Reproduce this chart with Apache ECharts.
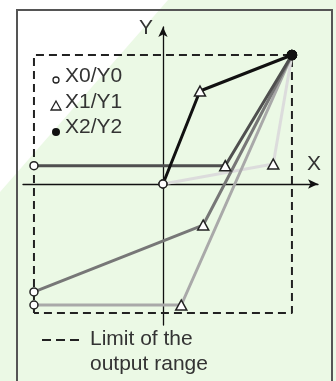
<!DOCTYPE html>
<html>
<head>
<meta charset="utf-8">
<script src="https://cdn.jsdelivr.net/npm/echarts@6/dist/echarts.min.js"></script>
<style>
  html, body { margin: 0; padding: 0; background: #fff; }
  #chart { width: 336px; height: 381px; }
</style>
</head>
<body>
<div id="chart"></div>
<script>
// output range limit is +/-100 in both directions
const limitBox = [[-100, -100], [-100, 100], [100, 100], [100, -100], [-100, -100]];

// each curve: X0/Y0 -> X1/Y1 -> X2/Y2
const curveBlack = [[0, 0], [28.7, 72.1], [100, 100]];
const curveDark = [[-100, 14.2], [48.3, 14.2], [100, 100]];
const curvePale = [[0, 0], [85.5, 15.5], [100, 100]];
const curveMid = [[-100, -83.7], [31.2, -31.8], [100, 100]];
const curveLight = [[-100, -93.8], [14.2, -93.8], [100, 100]];

const legendNames = ["X0/Y0", "X1/Y1", "X2/Y2"];
const limitText = "Limit of the\noutput range";

const chart = echarts.init(document.getElementById("chart"));

// point markers: open circle, open triangle, filled dot
const toPoints = (pts) =>
  pts.map((p, i) => {
    if (i === 0) return { value: p, symbol: "circle", symbolSize: 8 };
    if (i === 1) return { value: p, symbol: "triangle", symbolSize: [11, 10] };
    return {
      value: p,
      symbol: "circle",
      symbolSize: 9,
      itemStyle: { color: "#111", borderColor: "#111" },
    };
  });

const curve = (data, color, z) => ({
  type: "line",
  data: toPoints(data),
  showAllSymbol: true,
  z: z,
  lineStyle: { color: color, width: 3 },
  itemStyle: { color: "#fff", borderColor: "#222", borderWidth: 1.5 },
  clip: false,
  silent: true,
});

const font = "'Liberation Sans', Arial, sans-serif";

chart.setOption({
  animation: false,
  backgroundColor: "#fff",
  graphic: [
    {
      type: "polygon",
      z: -10,
      silent: true,
      shape: { points: [[168, 0], [336, 0], [336, 381], [0, 381], [0, 192]] },
      style: { fill: "#ebf9e5" },
    },
    {
      type: "rect",
      z: -5,
      silent: true,
      shape: { x: 17, y: 10, width: 315, height: 400 },
      style: { fill: "none", stroke: "#555", lineWidth: 2 },
    },
    // legend of point types
    { type: "circle", shape: { cx: 56, cy: 80, r: 3 }, style: { fill: "#fff", stroke: "#222", lineWidth: 1.3 } },
    { type: "polygon", shape: { points: [[56, 101], [51, 110], [61, 110]] }, style: { fill: "#fff", stroke: "#222", lineWidth: 1.3 } },
    { type: "circle", shape: { cx: 56, cy: 132, r: 4 }, style: { fill: "#111" } },
    ...legendNames.map((t, i) => ({
      type: "text",
      left: 65,
      top: 66 + i * 25.5,
      style: { text: t, font: "21px " + font, fill: "#333" },
    })),
    // limit legend
    {
      type: "line",
      shape: { x1: 42, y1: 340, x2: 81, y2: 340 },
      style: { stroke: "#222", lineWidth: 2, lineDash: [9, 5] },
    },
    {
      type: "text",
      left: 90,
      top: 327,
      style: { text: limitText, font: "21px " + font, fill: "#333", lineHeight: 25 },
    },
    // axis names
    { type: "text", left: 139, top: 18, style: { text: "Y", font: "21px " + font, fill: "#333" } },
    { type: "text", left: 307, top: 154, style: { text: "X", font: "21px " + font, fill: "#333" } },
  ],
  grid: { left: 23, top: 27, width: 295, height: 298 },
  xAxis: {
    type: "value",
    min: -108.5,
    max: 120.2,
    axisLine: { onZero: true, symbol: ["none", "arrow"], symbolSize: [7, 10], lineStyle: { color: "#111", width: 1.3 } },
    axisTick: { show: false },
    axisLabel: { show: false },
    splitLine: { show: false },
  },
  yAxis: {
    type: "value",
    min: -109.3,
    max: 121.7,
    axisLine: { onZero: true, symbol: ["none", "arrow"], symbolSize: [7, 10], lineStyle: { color: "#111", width: 1.3 } },
    axisTick: { show: false },
    axisLabel: { show: false },
    splitLine: { show: false },
  },
  series: [
    {
      type: "line",
      data: limitBox,
      symbol: "none",
      z: 1,
      lineStyle: { color: "#222", width: 2, type: [8, 5] },
      silent: true,
    },
    curve(curvePale, "#dcdcdc", 2),
    curve(curveLight, "#a9a9a9", 3),
    curve(curveMid, "#777", 4),
    curve(curveDark, "#4f4f4f", 5),
    curve(curveBlack, "#111", 6),
  ],
});
</script>
</body>
</html>
